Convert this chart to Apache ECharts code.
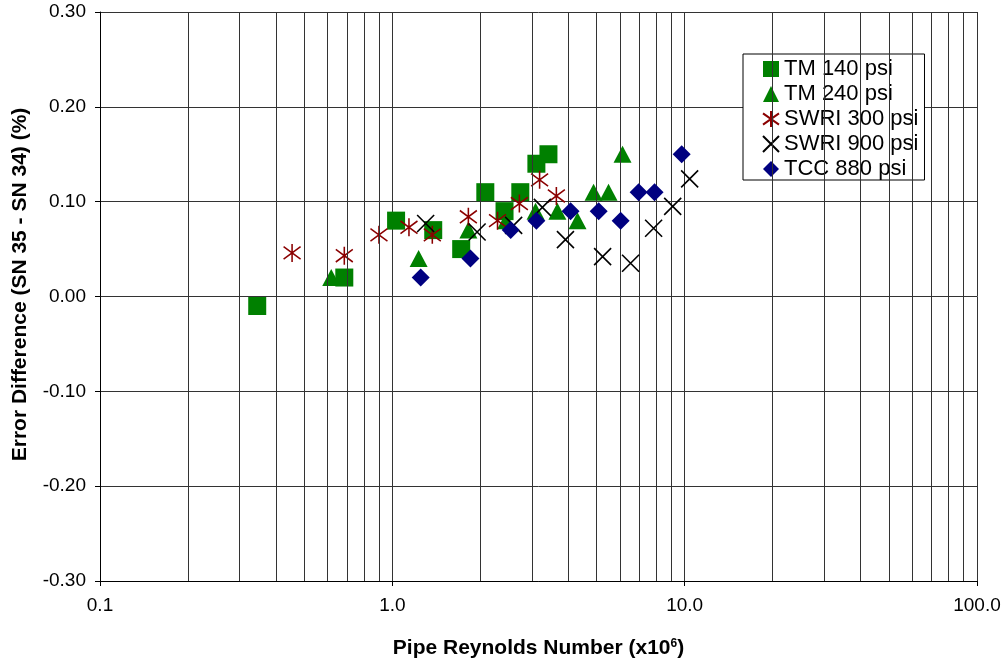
<!DOCTYPE html>
<html><head><meta charset="utf-8">
<script src="https://cdn.jsdelivr.net/npm/echarts@6/dist/echarts.min.js"></script>
<style>html,body{margin:0;padding:0;background:#fff}#c{width:1004px;height:661px}</style>
</head><body><div id="c"></div>
<script>
const seriesNames = ['TM 140 psi', 'TM 240 psi', 'SWRI 300 psi', 'SWRI 900 psi', 'TCC 880 psi'];
const tm140X = [0.345, 0.685, 1.03, 1.38, 1.72, 2.08, 2.42, 2.74, 3.11, 3.42];
const tm140Y = [-0.01, 0.02, 0.08, 0.07, 0.05, 0.11, 0.09, 0.11, 0.14, 0.15];
const tm240X = [0.618, 1.23, 1.82, 2.45, 3.09, 3.67, 4.30, 4.88, 5.49, 6.13];
const tm240Y = [0.02, 0.04, 0.07, 0.08, 0.09, 0.09, 0.08, 0.11, 0.11, 0.15];
const swri300X = [0.454, 0.685, 0.90, 1.14, 1.37, 1.82, 2.29, 2.72, 3.19, 3.64];
const swri300Y = [0.046, 0.043, 0.065, 0.073, 0.065, 0.084, 0.080, 0.098, 0.123, 0.106];
const swri900X = [1.30, 1.95, 2.60, 3.26, 3.91, 5.24, 6.53, 7.83, 9.10, 10.4];
const swri900Y = [0.077, 0.068, 0.075, 0.094, 0.060, 0.042, 0.035, 0.072, 0.095, 0.124];
const tccX = [1.25, 1.85, 2.54, 3.11, 4.07, 5.08, 6.04, 6.96, 7.89, 9.77];
const tccY = [0.02, 0.04, 0.07, 0.08, 0.09, 0.09, 0.08, 0.11, 0.11, 0.15];
const xDecades = [0.1, 1, 10];
const xMinorMultipliers = [2, 3, 4, 5, 6, 7, 8, 9];

const pairs = (xs, ys) => xs.map((x, i) => [x, ys[i]]);
const minorLines = [];
xDecades.forEach(d => xMinorMultipliers.forEach(m => minorLines.push({ xAxis: +(d * m).toPrecision(3) })));

const FONT = 'Liberation Sans, Arial, sans-serif';
const gridColor = '#333';
const asteriskPath = 'path://M5,0L5,10M0,1.5L10,8.5M10,1.5L0,8.5';
const crossPath = 'path://M0,0L10,10M10,0L0,10';

const chart = echarts.init(document.getElementById('c'), null, { renderer: 'canvas' });
chart.setOption({
  animation: false,
  backgroundColor: '#fff',
  textStyle: { fontFamily: FONT },
  grid: { left: 100, right: 27, top: 12, bottom: 80, containLabel: false, outerBoundsMode: 'none' },
  legend: {
    orient: 'vertical', left: 743, top: 54,
    padding: [4, 6, 0, 19],
    itemWidth: 16, itemHeight: 16, itemGap: 3,
    backgroundColor: '#fff', borderColor: '#000', borderWidth: 1,
    textStyle: { fontFamily: FONT, fontSize: 22, color: '#000', lineHeight: 20 },
    data: seriesNames
  },
  xAxis: {
    type: 'log', logBase: 10, min: 0.1, max: 100,
    name: 'Pipe Reynolds Number (x10{sup|6})',
    nameLocation: 'middle', nameGap: 57,
    nameTextStyle: { fontFamily: FONT, fontSize: 21, fontWeight: 'bold', color: '#000',
      rich: { sup: { fontFamily: FONT, fontSize: 12, fontWeight: 'bold', color: '#000', verticalAlign: 'top', padding: [0, 0, 9, 0] } } },
    axisLine: { show: true, onZero: false, lineStyle: { color: '#000', width: 1 } },
    axisTick: { show: true, length: 5, lineStyle: { color: '#000' } },
    axisLabel: { fontFamily: FONT, fontSize: 19, color: '#000', margin: 15,
      formatter: v => v < 1 ? String(v) : v.toFixed(1) },
    splitLine: { show: true, lineStyle: { color: gridColor, width: 1 } }
  },
  yAxis: {
    type: 'value', min: -0.3, max: 0.3, interval: 0.1,
    name: 'Error Difference (SN 35 - SN 34) (%)',
    nameLocation: 'middle', nameGap: 69, nameRotate: 90,
    nameTextStyle: { fontFamily: FONT, fontSize: 21, fontWeight: 'bold', color: '#000', padding: [0, 0, 0, 24] },
    axisLine: { show: true, onZero: false, lineStyle: { color: '#000', width: 1 } },
    axisTick: { show: true, length: 5, lineStyle: { color: '#000' } },
    axisLabel: { fontFamily: FONT, fontSize: 19, color: '#000', margin: 14,
      formatter: v => v.toFixed(2) },
    splitLine: { show: true, lineStyle: { color: gridColor, width: 1 } }
  },
  series: [
    {
      name: seriesNames[0], type: 'scatter', symbol: 'rect', symbolSize: 18,
      itemStyle: { color: '#008000', opacity: 1 },
      data: pairs(tm140X, tm140Y),
      markLine: { silent: true, symbol: 'none', label: { show: false },
        lineStyle: { color: gridColor, width: 1, type: 'solid' }, data: minorLines },
      z: 2
    },
    {
      name: seriesNames[1], type: 'scatter', symbol: 'triangle', symbolSize: [18, 17],
      itemStyle: { color: '#008000', opacity: 1 },
      data: pairs(tm240X, tm240Y), z: 3
    },
    {
      name: seriesNames[2], type: 'scatter', symbol: asteriskPath, symbolSize: [17, 18],
      itemStyle: { color: 'rgba(0,0,0,0)', borderColor: '#8B0000', borderWidth: 1.6, opacity: 1 },
      data: pairs(swri300X, swri300Y), z: 4
    },
    {
      name: seriesNames[3], type: 'scatter', symbol: crossPath, symbolSize: [17, 17],
      itemStyle: { color: 'rgba(0,0,0,0)', borderColor: '#000', borderWidth: 1.6, opacity: 1 },
      data: pairs(swri900X, swri900Y), z: 5
    },
    {
      name: seriesNames[4], type: 'scatter', symbol: 'diamond', symbolSize: 18,
      itemStyle: { color: '#000080', opacity: 1 },
      data: pairs(tccX, tccY), z: 6
    }
  ]
});
</script></body></html>
